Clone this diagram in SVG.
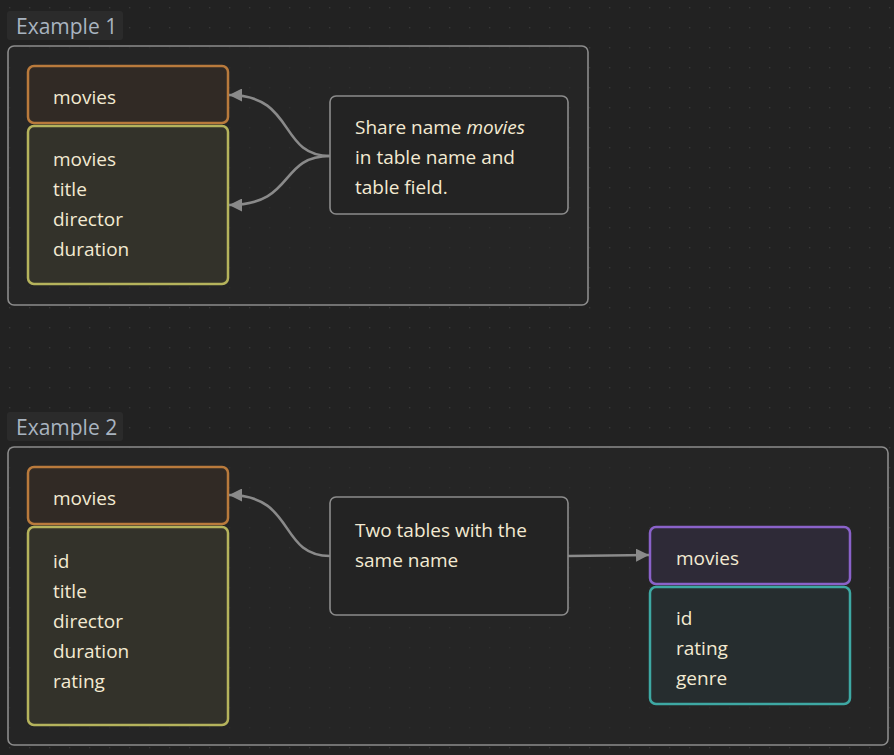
<svg xmlns="http://www.w3.org/2000/svg" width="894" height="755" viewBox="0 0 894 755">
<defs>
<pattern id="dots" x="9" y="7" width="20" height="20" patternUnits="userSpaceOnUse">
<rect x="0" y="0" width="1.3" height="1.3" fill="#383838"/>
</pattern>
<marker id="arr" viewBox="0 0 10 10" refX="10" refY="5" markerWidth="13" markerHeight="13" markerUnits="userSpaceOnUse" orient="auto">
<path d="M0,0 L10,5 L0,10 z" fill="#8a8a8a"/>
</marker>
<style>
.lbl{font-family:"Open Sans","Noto Sans",sans-serif;font-size:21px;fill:#a9b4c0}
.lblbox{fill:#2b2b2b}
.grp{fill:#282828;fill-opacity:0.6;stroke:#8c8c8c;stroke-width:1.6}
.t{font-family:"Open Sans","Noto Sans",sans-serif;font-size:19px;fill:#f3ead2}
.hdrO{fill:#312a25;stroke:#b97a3c;stroke-width:2.5}
.fldY{fill:#33322a;stroke:#b5b35c;stroke-width:2.5}
.hdrP{fill:#2e2a37;stroke:#8a62c9;stroke-width:2.5}
.fldT{fill:#262d2f;stroke:#3ea8a3;stroke-width:2.5}
.note{fill:#232323;stroke:#8c8c8c;stroke-width:1.6}
.edge{fill:none;stroke:#8a8a8a;stroke-width:2.6;marker-end:url(#arr)}
</style>
</defs>
<rect width="894" height="755" fill="#222222"/>
<rect width="894" height="755" fill="url(#dots)"/>

<g id="example1">
<rect class="lblbox" x="7" y="11" width="116" height="29" rx="3"/>
<text class="lbl" x="16" y="34">Example 1</text>
<rect class="grp" x="8" y="46" width="580" height="259" rx="6"/>
</g>

<g id="ex1-movies-header">
<rect class="hdrO" x="28" y="66" width="200" height="57" rx="6"/>
<text class="t" x="53" y="104">movies</text>
</g>
<g id="ex1-movies-fields">
<rect class="fldY" x="28" y="126" width="200" height="158" rx="6"/>
<text class="t" x="53" y="166">movies</text>
<text class="t" x="53" y="196">title</text>
<text class="t" x="53" y="226">director</text>
<text class="t" x="53" y="256">duration</text>
</g>
<g id="ex1-note">
<rect class="note" x="330" y="96" width="238" height="118" rx="6"/>
<text class="t" x="355" y="134">Share name <tspan font-style="italic">movies</tspan></text>
<text class="t" x="355" y="164">in table name and</text>
<text class="t" x="355" y="194">table field.</text>
</g>

<g id="example2">
<rect class="lblbox" x="7" y="412" width="116" height="29" rx="3"/>
<text class="lbl" x="16" y="435">Example 2</text>
<rect class="grp" x="8" y="447" width="880" height="298" rx="6"/>
</g>

<g id="ex2-movies-header">
<rect class="hdrO" x="28" y="467" width="200" height="57" rx="6"/>
<text class="t" x="53" y="505">movies</text>
</g>
<g id="ex2-movies-fields">
<rect class="fldY" x="28" y="527" width="200" height="198" rx="6"/>
<text class="t" x="53" y="568">id</text>
<text class="t" x="53" y="598">title</text>
<text class="t" x="53" y="628">director</text>
<text class="t" x="53" y="658">duration</text>
<text class="t" x="53" y="688">rating</text>
</g>
<g id="ex2-note">
<rect class="note" x="330" y="497" width="238" height="118" rx="6"/>
<text class="t" x="355" y="537">Two tables with the</text>
<text class="t" x="355" y="567">same name</text>
</g>
<g id="ex2-movies2-header">
<rect class="hdrP" x="650" y="527" width="200" height="57" rx="6"/>
<text class="t" x="676" y="565">movies</text>
</g>
<g id="ex2-movies2-fields">
<rect class="fldT" x="650" y="587" width="200" height="117" rx="6"/>
<text class="t" x="676" y="625">id</text>
<text class="t" x="676" y="655">rating</text>
<text class="t" x="676" y="685">genre</text>
</g>

<g id="connectors">
<path class="edge" d="M330,156 C278,156 296,95 229,95"/>
<path class="edge" d="M330,156 C278,156 296,205 229,205"/>
<path class="edge" d="M330,556 C278,556 296,495 229,495"/>
<path class="edge" d="M568,556 L649,555"/>
</g>
</svg>
